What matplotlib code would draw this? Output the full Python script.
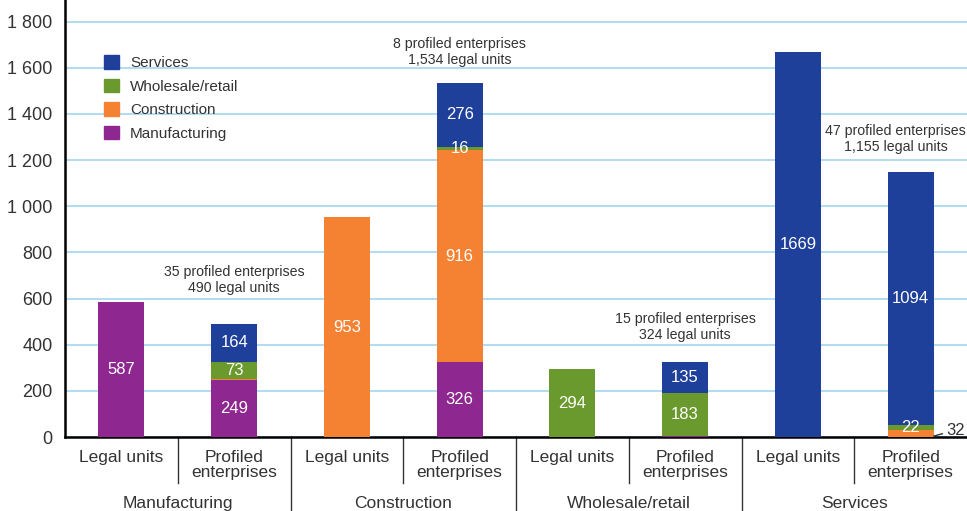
import numpy as np
import matplotlib.pyplot as plt
from matplotlib.patches import Patch

plt.rcParams['font.family'] = ['Liberation Sans', 'DejaVu Sans']

sectors = ["Manufacturing", "Construction", "Wholesale/retail", "Services"]
bar_kinds = ["Legal units", "Profiled\nenterprises"]

# stacked values per bar, order: legal/profiled for each sector
manufacturing = [587, 249, 0, 326, 0, 6, 0, 0]
construction = [0, 4, 953, 916, 0, 0, 0, 32]
wholesale = [0, 73, 0, 16, 294, 183, 0, 22]
services = [0, 164, 0, 276, 0, 135, 1669, 1094]

n_profiled = [35, 8, 15, 47]
n_legal = [490, 1534, 324, 1155]

colors = {"Manufacturing": "#8e278f", "Construction": "#f58233",
          "Wholesale/retail": "#6a9a2e", "Services": "#1f409a"}

fig = plt.figure(figsize=(9.67, 5.11), dpi=100)
ax = fig.add_axes([65 / 967, 1 - 437 / 511, 1 - 65 / 967, 437 / 511])

x = np.arange(8)
width = 0.41
stack = [("Manufacturing", manufacturing), ("Construction", construction),
         ("Wholesale/retail", wholesale), ("Services", services)]
bottom = np.zeros(8)
for name, vals in stack:
    vals = np.array(vals, dtype=float)
    ax.bar(x, vals, width, bottom=bottom, color=colors[name], zorder=3)
    for i, v in enumerate(vals):
        if v >= 15 and not (i == 7 and name == "Construction"):
            ax.text(x[i], bottom[i] + v / 2, str(int(v)), ha="center", va="center",
                    color="white", fontsize=12, zorder=4)
    bottom += vals

# small orange segment labelled outside the bar
ax.annotate("32", xy=(x[7] + width / 2, 4), xytext=(x[7] + 0.32, 30),
            ha="left", va="center", fontsize=12, color="#333333",
            arrowprops=dict(arrowstyle="-", color="#333333", lw=1,
                            shrinkA=1, shrinkB=0))

# totals above profiled bars
label_y = [680, 1670, 477, 1292]
label_x = [1, 3, 5, 6.865]
for k in range(4):
    ax.text(label_x[k], label_y[k],
            "{} profiled enterprises\n{:,} legal units".format(n_profiled[k], n_legal[k]),
            ha="center", va="center", fontsize=10.2, color="#333333", linespacing=1.15)

ax.set_xlim(-0.5, 7.5)
ax.set_ylim(0, 1894)
ax.set_yticks(np.arange(0, 1801, 200))
ax.set_yticklabels([f"{v:,}".replace(",", " ") for v in range(0, 1801, 200)])
ax.yaxis.grid(True, color="#a9d9f0", lw=1.3, zorder=0)
ax.tick_params(axis="y", length=0, labelsize=13, labelcolor="#333333", pad=9)
ax.set_xticks(x)
ax.set_xticklabels(bar_kinds * 4, fontsize=12.5, color="#333333", va="top", linespacing=1.0)
ax.tick_params(axis="x", length=0, pad=9)
for side in ["top", "right"]:
    ax.spines[side].set_visible(False)
ax.spines["left"].set_linewidth(1.8)
ax.spines["bottom"].set_linewidth(1.8)

# separators below the axis
trans = ax.get_xaxis_transform()
for b in np.arange(0.5, 7, 1):
    major = int(b + 0.5) % 2 == 0
    ax.plot([b, b], [0, -0.2 if major else -0.105], transform=trans,
            color="#333333", lw=1, clip_on=False)
for k, s in enumerate(sectors):
    ax.text(2 * k + 0.5, -0.152, s, transform=trans, ha="center", va="center",
            fontsize=12.5, color="#333333")

handles = [Patch(color=colors[n]) for n in ["Services", "Wholesale/retail",
                                            "Construction", "Manufacturing"]]
ax.legend(handles, ["Services", "Wholesale/retail", "Construction", "Manufacturing"],
          loc="upper left", bbox_to_anchor=(0.028, 0.905), frameon=False,
          fontsize=11, handlelength=1.0, handleheight=1.0, labelspacing=0.55,
          handletextpad=0.7, labelcolor="#333333")

fig.savefig("out.png", dpi=100)
